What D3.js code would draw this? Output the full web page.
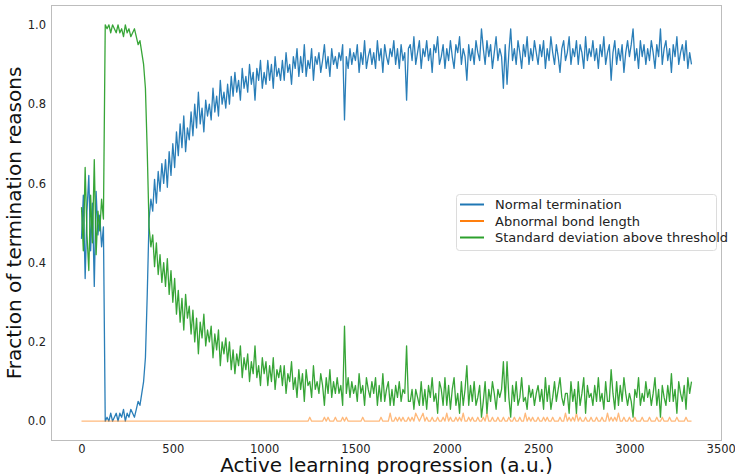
<!DOCTYPE html>
<html lang="en">
<head>
<meta charset="utf-8">
<title>Fraction of termination reasons</title>
<style>
  body { margin: 0; background: #fff; }
  .tick text { font-family: "DejaVu Sans", sans-serif; font-size: 11.5px; fill: #222; }
  .axis-title { font-family: "DejaVu Sans", sans-serif; font-size: 20px; fill: #111; text-anchor: middle; }
  .legend text { font-family: "DejaVu Sans", sans-serif; font-size: 13px; fill: #222; }
  .series { fill: none; stroke-width: 1.3; stroke-linejoin: round; }
</style>
</head>
<body>
<div id="chart"></div>
<script src="https://cdn.jsdelivr.net/npm/d3@7"></script>
<script>
// one sample every 10 units of progression, starting at 0
var step = 10;

var normalTermination = [
  0.46,0.57,0.36,0.53,0.62,0.43,0.55,0.34,0.58,0.47,
  0.52,0.44,0.49,0.00,0.01,0.00,0.02,0.00,0.01,0.02,
  0.00,0.02,0.01,0.03,0.00,0.02,0.01,0.03,0.02,0.01,
  0.03,0.05,0.04,0.07,0.10,0.16,0.32,0.51,0.56,0.53,
  0.61,0.55,0.63,0.58,0.65,0.60,0.66,0.59,0.68,0.62,
  0.70,0.64,0.73,0.67,0.75,0.69,0.77,0.68,0.74,0.71,
  0.78,0.72,0.80,0.74,0.83,0.75,0.79,0.73,0.81,0.77,
  0.80,0.76,0.84,0.78,0.82,0.77,0.86,0.80,0.83,0.79,
  0.85,0.80,0.87,0.82,0.88,0.83,0.86,0.81,0.89,0.84,
  0.87,0.83,0.90,0.85,0.88,0.81,0.89,0.86,0.91,0.84,
  0.88,0.85,0.91,0.86,0.90,0.84,0.92,0.87,0.89,0.86,
  0.91,0.86,0.93,0.88,0.90,0.85,0.92,0.89,0.94,0.87,
  0.92,0.88,0.95,0.87,0.91,0.89,0.94,0.86,0.92,0.90,
  0.93,0.88,0.91,0.95,0.89,0.92,0.87,0.94,0.90,0.92,
  0.89,0.93,0.91,0.95,0.76,0.92,0.89,0.94,0.90,0.93,
  0.91,0.95,0.88,0.93,0.90,0.96,0.89,0.92,0.94,0.90,
  0.93,0.89,0.96,0.91,0.94,0.88,0.95,0.92,0.90,0.94,
  0.92,0.96,0.90,0.94,0.89,0.95,0.91,0.93,0.81,0.94,
  0.95,0.91,0.97,0.90,0.93,0.96,0.89,0.94,0.92,0.96,
  0.91,0.94,0.88,0.95,0.93,0.97,0.90,0.92,0.95,0.89,
  0.94,0.91,0.96,0.92,0.89,0.95,0.93,0.97,0.90,0.94,
  0.92,0.86,0.95,0.91,0.94,0.90,0.96,0.93,0.91,0.99,
  0.94,0.90,0.96,0.92,0.95,0.89,0.93,0.97,0.91,0.94,
  0.92,0.84,0.95,0.85,0.93,0.99,0.91,0.94,0.90,0.96,
  0.93,0.89,0.95,0.92,0.97,0.90,0.94,0.91,0.96,0.93,
  0.90,0.95,0.92,0.96,0.89,0.94,0.91,0.97,0.93,0.90,
  0.95,0.92,0.88,0.94,0.96,0.91,0.93,0.97,0.90,0.94,
  0.92,0.96,0.90,0.95,0.93,0.89,0.97,0.91,0.94,0.92,
  0.96,0.91,0.94,0.89,0.95,0.92,0.97,0.90,0.93,0.95,
  0.86,0.93,0.96,0.90,0.94,0.91,0.95,0.88,0.93,0.96,
  0.92,0.95,0.99,0.91,0.94,0.89,0.96,0.92,0.95,0.90,
  0.94,0.91,0.96,0.93,0.89,0.95,0.92,0.99,0.90,0.94,
  0.96,0.91,0.94,0.88,0.95,0.92,0.97,0.90,0.93,0.95,
  0.91,0.96,0.89,0.93,0.90
];

var abnormalBond = [
  0,0,0,0,0,0,0,0,0,0,
  0,0,0,0,0,0,0,0,0,0,
  0,0,0,0,0,0,0,0,0,0,
  0,0,0,0,0,0,0,0,0,0,
  0,0,0,0,0,0,0,0,0,0,
  0,0,0,0,0,0,0,0,0,0,
  0,0,0,0,0,0,0,0,0,0,
  0,0,0,0,0,0,0,0,0,0,
  0,0,0,0,0,0,0,0,0,0,
  0,0,0,0,0,0,0,0,0,0,
  0,0,0,0,0,0,0,0,0,0,
  0,0,0,0,0,0,0,0,0,0,
  0,0,0,0,0,0.01,0,0,0,0,
  0,0,0,0.01,0,0.01,0,0,0,0.01,
  0,0,0,0.01,0,0.01,0,0,0,0,
  0,0,0,0,0.01,0,0,0,0,0,
  0,0,0,0,0.01,0,0,0,0,0.02,
  0,0,0.01,0,0.01,0,0.01,0,0,0.01,
  0,0.01,0,0.02,0.01,0,0.01,0.02,0,0.01,
  0,0,0.01,0,0,0.01,0,0,0.01,0,
  0.02,0,0.01,0,0,0.01,0,0.01,0,0.02,
  0,0,0.01,0,0.01,0,0,0.01,0,0,
  0.01,0,0.02,0,0,0.01,0,0,0.01,0,
  0,0.01,0,0,0.01,0,0,0.01,0,0,
  0.01,0,0,0.02,0,0.01,0,0.01,0,0,
  0.01,0,0,0.01,0,0.01,0,0,0.01,0,
  0,0,0.01,0,0,0.02,0,0.01,0,0.01,
  0,0.02,0,0.01,0,0,0.01,0,0,0.01,
  0,0,0.01,0,0,0.01,0,0,0.02,0,
  0.01,0,0.01,0,0.02,0,0,0.01,0,0,
  0.01,0,0,0.01,0,0,0,0.01,0,0,
  0,0.01,0,0,0,0.01,0,0,0.01,0,
  0,0,0.01,0,0,0,0.01,0,0,0,
  0,0.01,0,0,0
];

var stdAboveThreshold = [
  0.54,0.43,0.64,0.47,0.38,0.57,0.45,0.66,0.42,0.53,
  0.48,0.56,0.51,1.00,0.99,1.00,0.98,1.00,0.99,0.98,
  1.00,0.98,0.99,0.97,1.00,0.98,0.99,0.97,0.98,0.99,
  0.97,0.95,0.96,0.93,0.90,0.84,0.68,0.49,0.44,0.47,
  0.39,0.45,0.37,0.42,0.35,0.40,0.34,0.41,0.32,0.38,
  0.30,0.36,0.27,0.33,0.25,0.31,0.23,0.32,0.26,0.29,
  0.22,0.28,0.20,0.26,0.17,0.25,0.21,0.27,0.19,0.23,
  0.20,0.24,0.16,0.22,0.18,0.23,0.14,0.20,0.17,0.21,
  0.15,0.20,0.13,0.18,0.12,0.17,0.14,0.19,0.11,0.16,
  0.13,0.17,0.10,0.15,0.12,0.19,0.11,0.14,0.09,0.16,
  0.12,0.15,0.09,0.14,0.10,0.16,0.08,0.13,0.11,0.14,
  0.09,0.14,0.07,0.12,0.10,0.15,0.08,0.11,0.06,0.13,
  0.08,0.12,0.05,0.13,0.09,0.10,0.06,0.14,0.08,0.10,
  0.07,0.12,0.09,0.04,0.11,0.07,0.13,0.06,0.10,0.07,
  0.11,0.07,0.09,0.04,0.24,0.07,0.11,0.06,0.10,0.07,
  0.09,0.05,0.12,0.07,0.09,0.04,0.11,0.08,0.06,0.10,
  0.07,0.11,0.04,0.09,0.05,0.12,0.05,0.08,0.10,0.04,
  0.08,0.04,0.09,0.06,0.10,0.05,0.08,0.07,0.19,0.05,
  0.05,0.08,0.03,0.08,0.06,0.04,0.10,0.04,0.08,0.03,
  0.09,0.06,0.11,0.05,0.07,0.02,0.10,0.08,0.04,0.11,
  0.04,0.09,0.03,0.08,0.11,0.04,0.07,0.02,0.10,0.04,
  0.08,0.14,0.04,0.09,0.05,0.10,0.04,0.06,0.09,0.01,
  0.05,0.10,0.02,0.08,0.05,0.10,0.07,0.03,0.08,0.06,
  0.08,0.15,0.05,0.15,0.06,0.01,0.09,0.05,0.10,0.04,
  0.06,0.11,0.05,0.06,0.03,0.09,0.06,0.08,0.04,0.07,
  0.09,0.05,0.08,0.03,0.11,0.05,0.09,0.03,0.06,0.10,
  0.05,0.08,0.11,0.06,0.04,0.07,0.07,0.02,0.10,0.05,
  0.08,0.02,0.10,0.04,0.07,0.11,0.02,0.09,0.06,0.07,
  0.04,0.09,0.05,0.11,0.05,0.07,0.03,0.10,0.05,0.05,
  0.13,0.07,0.03,0.10,0.04,0.09,0.05,0.11,0.07,0.04,
  0.07,0.05,0.01,0.08,0.06,0.11,0.04,0.07,0.05,0.10,
  0.06,0.08,0.04,0.07,0.11,0.04,0.08,0.01,0.09,0.06,
  0.04,0.09,0.05,0.12,0.05,0.08,0.02,0.10,0.07,0.05,
  0.09,0.03,0.11,0.07,0.10
];

var seriesNames = ["Normal termination", "Abnormal bond length", "Standard deviation above threshold"];
var seriesColors = ["#1f77b4", "#ff7f0e", "#2ca02c"];
var xTicks = [0, 500, 1000, 1500, 2000, 2500, 3000, 3500];
var yTicks = [0.0, 0.2, 0.4, 0.6, 0.8, 1.0];

var W = 735, H = 474;
var margin = {top: 5, right: 13, bottom: 33, left: 51};
var width = W - margin.left - margin.right,
    height = H - margin.top - margin.bottom;

var svg = d3.select("#chart").append("svg")
    .attr("width", W)
    .attr("height", H);

var plt = svg.append("g").attr("transform", "translate(" + margin.left + "," + margin.top + ")");

var lastX = (normalTermination.length - 1) * step;
var xPad = lastX * 0.05;
var xScale = d3.scaleLinear().domain([-xPad, lastX + xPad]).range([0, width]);
var yScale = d3.scaleLinear().domain([-0.05, 1.05]).range([height, 0]);

var line = d3.line()
    .x(function(d, i) { return xScale(i * step); })
    .y(function(d) { return yScale(d); });

var allSeries = [normalTermination, abnormalBond, stdAboveThreshold];

plt.selectAll(".series")
   .data(allSeries)
   .enter()
   .append("path")
   .attr("class", "series")
   .attr("d", line)
   .style("stroke", function(d, i) { return seriesColors[i]; })
   .style("stroke-opacity", function(d, i) { return i === 1 ? 0.55 : 0.95; });

// frame
plt.append("rect")
   .attr("x", 0.5).attr("y", 0.5)
   .attr("width", width - 1).attr("height", height - 1)
   .style("fill", "none")
   .style("stroke", "#bdbdbd")
   .style("stroke-width", 1);

var xAxis = d3.axisBottom(xScale).tickValues(xTicks).tickSize(0).tickPadding(4).tickFormat(d3.format("d"));
var yAxis = d3.axisLeft(yScale).tickValues(yTicks).tickSize(0).tickPadding(5).tickFormat(d3.format(".1f"));

plt.append("g")
   .attr("class", "x axis")
   .attr("transform", "translate(0," + height + ")")
   .call(xAxis)
   .call(function(g) { g.select(".domain").remove(); });

plt.append("g")
   .attr("class", "y axis")
   .call(yAxis)
   .call(function(g) { g.select(".domain").remove(); });

svg.selectAll(".tick text").attr("font-family", null).attr("font-size", null);

svg.append("text")
   .attr("class", "axis-title")
   .attr("x", margin.left + width / 2)
   .attr("y", 472)
   .text("Active learning progression (a.u.)");

svg.append("text")
   .attr("class", "axis-title")
   .attr("transform", "rotate(-90)")
   .attr("x", -(margin.top + height / 2))
   .attr("y", 21)
   .text("Fraction of termination reasons");

// legend
var legend = svg.append("g").attr("class", "legend").attr("transform", "translate(456,194)");

legend.append("rect")
   .attr("x", 0.5).attr("y", 0.5)
   .attr("width", 260).attr("height", 56)
   .attr("rx", 3).attr("ry", 3)
   .style("fill", "#fff")
   .style("fill-opacity", 0.85)
   .style("stroke", "#dcdcdc");

var items = legend.selectAll(".item")
   .data(seriesNames)
   .enter()
   .append("g")
   .attr("class", "item")
   .attr("transform", function(d, i) { return "translate(0," + (10.5 + i * 16.5) + ")"; });

items.append("line")
   .attr("x1", 4).attr("x2", 28)
   .attr("y1", 0).attr("y2", 0)
   .style("stroke", function(d, i) { return seriesColors[i]; })
   .style("stroke-width", 2);

items.append("text")
   .attr("x", 39)
   .attr("y", 0)
   .attr("dy", "0.35em")
   .text(function(d) { return d; });
</script>
</body>
</html>
